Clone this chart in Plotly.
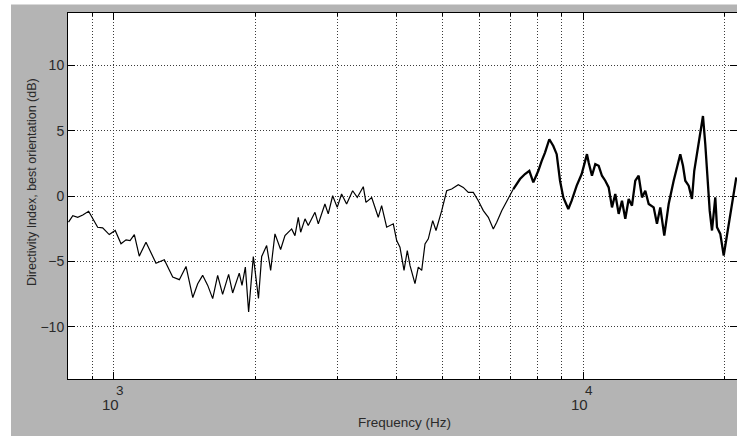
import math
import plotly.graph_objects as go

freq_hz = [800, 817, 837, 858, 883, 901, 923, 946, 977, 1006, 1035, 1061, 1082, 1105, 1132, 1170,
           1229, 1280, 1334, 1378, 1424, 1472, 1508, 1545, 1584, 1623, 1663, 1704, 1755, 1790,
           1849, 1874, 1905, 1936, 1981, 2032, 2064, 2115, 2157, 2203, 2265, 2314, 2391, 2430,
           2470, 2499, 2553, 2594, 2681, 2725, 2815, 2861, 2924, 2990, 3055, 3131, 3225, 3299,
           3398, 3443, 3541, 3657, 3718, 3811, 3937, 4003, 4068, 4150, 4217, 4273, 4379, 4451,
           4526, 4600, 4675, 4777, 4855, 4993, 5116, 5243, 5416, 5550, 5689, 5830, 5975, 6123,
           6276, 6431, 6540, 6702, 6923, 7095, 7331, 7513, 7674, 7826, 8020, 8155, 8288, 8465,
           8633, 8777, 8922, 9067, 9292, 9447, 9683, 9922, 10183, 10268, 10435, 10607, 10785,
           10960, 11140, 11327, 11513, 11701, 11897, 12092, 12289, 12495, 12700, 12907, 13122,
           13339, 13556, 13785, 14125, 14355, 14591, 14880, 15205, 15581, 15837, 16095, 16311,
           16496, 16772, 17045, 17238, 17530, 17753, 17991, 18197, 18348, 18595, 18806, 19112,
           19272, 19586, 19918, 20242, 20572, 20921, 21187]
di_db = [-2.0, -1.5, -1.63, -1.45, -1.17, -1.75, -2.39, -2.44, -2.95, -2.64, -3.66, -3.35, -3.41,
         -2.95, -4.6, -3.54, -5.14, -4.88, -6.2, -6.4, -5.39, -7.77, -6.71, -6.07, -6.84, -7.85,
         -6.07, -7.52, -6.0, -7.42, -5.9, -6.84, -5.44, -8.87, -4.63, -7.83, -4.63, -3.79, -5.69,
         -2.9, -4.09, -3.03, -2.52, -3.03, -1.63, -2.77, -1.75, -2.26, -1.25, -2.13, -0.61, -1.37,
         0.02, -0.87, 0.15, -0.61, 0.4, -0.11, 0.71, -0.49, -0.11, -1.63, -0.74, -2.39, -2.13,
         -3.41, -3.92, -5.69, -4.17, -5.31, -6.71, -5.44, -5.69, -3.66, -3.28, -1.88, -2.64, -1.12,
         0.4, 0.53, 0.86, 0.66, 0.27, 0.27, -0.36, -1.12, -1.63, -2.52, -2.01, -1.12, -0.11, 0.53,
         1.3, 1.68, 1.93, 1.04, 1.93, 2.69, 3.32, 4.34, 3.83, 3.2, 1.17, -0.11, -0.99, -0.36, 0.79,
         1.68, 3.2, 2.56, 1.55, 2.44, 2.31, 1.55, 1.17, 0.66, -0.87, 0.15, -1.37, -0.36, -1.75,
         -0.23, -0.74, 1.17, 1.55, -0.11, 0.4, -0.61, -0.87, -2.13, -0.87, -3.03, -0.61, 1.17,
         2.31, 3.2, 2.31, 1.17, 0.79, -0.23, 1.93, 3.45, 4.85, 6.12, 3.96, 2.18, -1.12, -2.64,
         -0.11, -2.39, -2.9, -4.55, -2.9, -1.37, 0.4, 1.42]

x_major_ticks = [1000, 10000]
x_major_base = ["10", "10"]
x_major_exp = ["3", "4"]
x_minor_ticks = [900, 2000, 3000, 4000, 5000, 6000, 7000, 8000, 9000, 20000]
y_ticks = [-10, -5, 0, 5, 10]
x_range_hz = [798, 21260]
y_range_db = [-14, 14]

FONT = "Liberation Sans, Arial, Helvetica, sans-serif"
GRAY = "#b4b4b4"
TXT = "#2a2a2a"
GRID = "#3a3a3a"
DOTS = "1px,2px"

# the measured trace looks thicker (denser noise) above ~7 kHz: draw that part bolder
split = next(i for i, f in enumerate(freq_hz) if f >= 7000)

fig = go.Figure()
fig.add_trace(go.Scatter(x=freq_hz[:split + 1], y=di_db[:split + 1], mode="lines",
                         line=dict(color="black", width=1.2), showlegend=False,
                         hoverinfo="skip"))
fig.add_trace(go.Scatter(x=freq_hz[split:], y=di_db[split:], mode="lines",
                         line=dict(color="black", width=2.3), showlegend=False,
                         hoverinfo="skip"))

annotations = [
    dict(text="Frequency (Hz)", xref="paper", yref="paper", x=0.5037, y=-0.1200,
         xanchor="center", yanchor="middle", showarrow=False,
         font=dict(family=FONT, size=13.5, color=TXT)),
    dict(text="Directivity Index, best orientation (dB)", xref="paper", yref="paper",
         x=-0.0530, y=0.537, xanchor="center", yanchor="middle", textangle=-90,
         showarrow=False, font=dict(family=FONT, size=12.5, color=TXT)),
]
for tv, base, ex in zip(x_major_ticks, x_major_base, x_major_exp):
    annotations.append(dict(text=base, xref="x", yref="paper", x=math.log10(tv), y=-0.0696,
                            xanchor="center", yanchor="middle", xshift=-3.5, showarrow=False,
                            font=dict(family=FONT, size=15, color=TXT)))
    annotations.append(dict(text=ex, xref="x", yref="paper", x=math.log10(tv), y=-0.0327,
                            xanchor="center", yanchor="middle", xshift=6, showarrow=False,
                            font=dict(family=FONT, size=13.5, color=TXT)))

fig.update_layout(
    width=737, height=436,
    margin=dict(l=68, r=0, t=13, b=57, pad=0),
    paper_bgcolor="white", plot_bgcolor="white",
    font=dict(family=FONT, size=13, color=TXT),
    shapes=[
        dict(type="rect", xref="paper", yref="paper", x0=-0.0852, x1=1.02,
             y0=-0.2, y1=1.0232, fillcolor=GRAY, line=dict(width=0), layer="below"),
        dict(type="rect", xref="paper", yref="paper", x0=0, x1=1, y0=0, y1=1,
             fillcolor="white", line=dict(width=0), layer="below"),
    ],
    annotations=annotations,
)

fig.update_xaxes(
    type="log", range=[math.log10(x_range_hz[0]), math.log10(x_range_hz[1])],
    tickmode="array", tickvals=x_major_ticks, showticklabels=False,
    ticks="inside", ticklen=7, tickcolor="black", tickwidth=1,
    showline=True, linecolor="black", linewidth=1, mirror="allticks",
    showgrid=True, gridcolor=GRID, griddash=DOTS, gridwidth=1,
    minor=dict(tickmode="array", tickvals=x_minor_ticks, ticks="inside", ticklen=3,
               tickcolor="black", showgrid=True, gridcolor=GRID, griddash=DOTS, gridwidth=1),
    zeroline=False,
)
fig.update_yaxes(
    range=y_range_db, tickmode="array", tickvals=y_ticks,
    ticks="inside", ticklen=7, tickcolor="black", tickwidth=1,
    showline=True, linecolor="black", linewidth=1, mirror="allticks",
    showgrid=True, gridcolor=GRID, griddash=DOTS, gridwidth=1,
    tickfont=dict(family=FONT, size=14, color=TXT),
    zeroline=False,
)

fig.write_html("out.html", config={"displayModeBar": False, "staticPlot": True},
               post_script="document.body.style.margin='0';document.body.style.overflow='hidden';")
